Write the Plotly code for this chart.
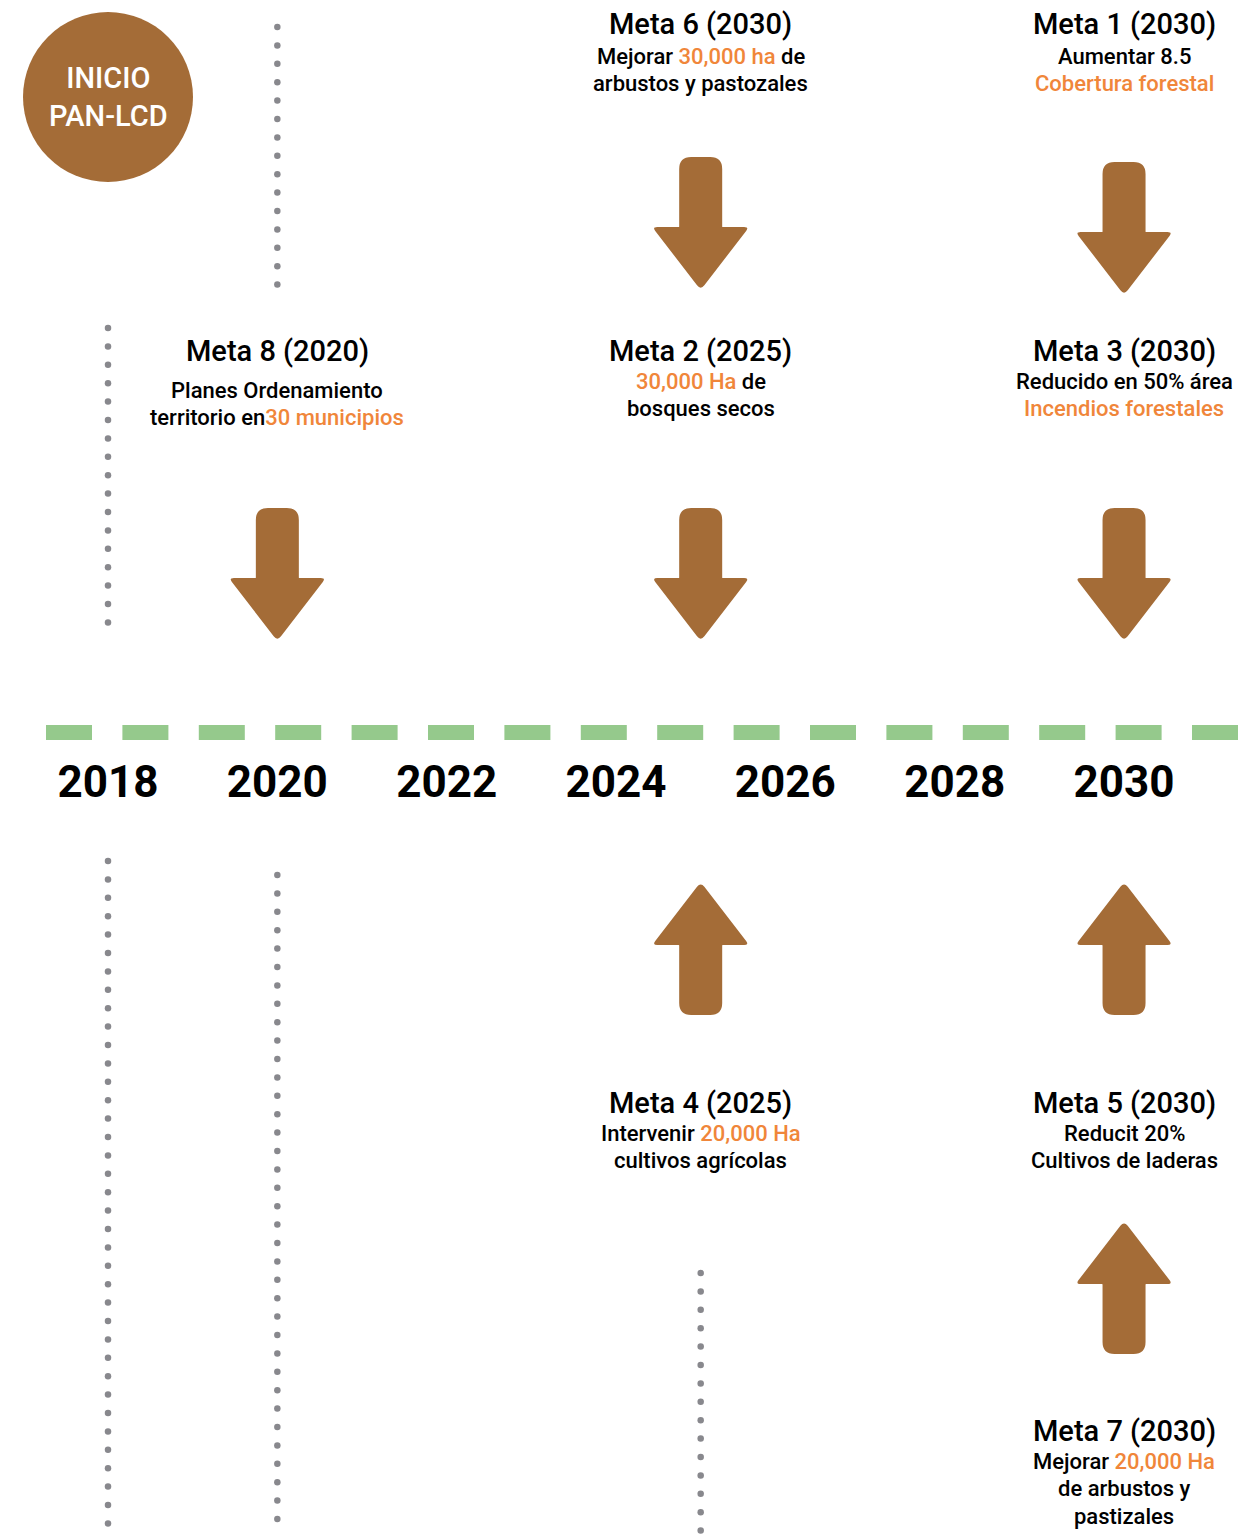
import re
import numpy as np
import plotly.graph_objects as go

# ---------------- data ----------------
year_ticks = [2018, 2020, 2022, 2024, 2026, 2028, 2030]
start_label = ["INICIO", "PAN-LCD"]
start_year = 2018

meta_ids = [6, 1, 8, 2, 3, 4, 5, 7]
meta_years = [2030, 2030, 2020, 2025, 2030, 2025, 2030, 2030]
meta_cols = [2025, 2030, 2020, 2025, 2030, 2025, 2030, 2030]
meta_texts = [
    ["Mejorar [30,000 ha] de", "arbustos y pastozales"],
    ["Aumentar 8.5", "[Cobertura forestal]"],
    ["Planes Ordenamiento", "territorio en[30 municipios]"],
    ["[30,000 Ha] de", "bosques secos"],
    ["Reducido en 50% área", "[Incendios forestales]"],
    ["Intervenir [20,000 Ha]", "cultivos agrícolas"],
    ["Reducit 20%", "Cultivos de laderas"],
    ["Mejorar [20,000 Ha]", "de arbustos y", "pastizales"],
]

arrow_cols = [2025, 2030, 2020, 2025, 2030, 2025, 2030, 2030]
arrow_dirs = ["down", "down", "down", "down", "down", "up", "up", "up"]

dotted_cols = [2020, 2018, 2018, 2020, 2025]

# ---------------- layout / style ----------------
W, H = 1251, 1538
PPY = 84.67                     # pixels per year on the x axis
X0 = 2018 - 108 / PPY
X1 = X0 + W / PPY

BROWN = "#A46C37"
ORANGE = "#F0863A"
GREEN = "#95C98C"
GRAY = "#88888D"
FONT = "Roboto"

meta_title_y = [24, 24, 351, 351, 351, 1103, 1103, 1431]
meta_body_y0 = [56, 56, 390, 381, 381, 1133, 1133, 1461]
LINE_STEP = 27.7

arrow_tops = [157, 162, 508, 508, 508, 882, 882, 1221]
dotted_spans = [(27, 294), (328, 638), (861, 1535), (875, 1535), (1273, 1535)]


def px(dx):
    return dx / PPY


fig = go.Figure()

# dotted gray lines
for col, (y0, y1) in zip(dotted_cols, dotted_spans):
    ys = np.arange(y0, y1 + 0.5, 18.4)
    fig.add_trace(go.Scatter(x=[col] * len(ys), y=ys, mode="markers",
                             marker=dict(size=6.5, color=GRAY),
                             hoverinfo="skip", showlegend=False))

# dashed green timeline
fig.add_trace(go.Scatter(x=[X0 + px(46), X0 + px(1238)], y=[732.5, 732.5], mode="lines",
                         line=dict(color=GREEN, width=15, dash="46px,30.4px"),
                         hoverinfo="skip", showlegend=False))

# year labels
fig.add_trace(go.Scatter(x=year_ticks, y=[786] * len(year_ticks), mode="text",
                         text=[str(y) for y in year_ticks],
                         textfont=dict(family=FONT, size=44, color="#000000", weight="bold"),
                         hoverinfo="skip", showlegend=False))

# start circle
R = 85
fig.add_shape(type="circle", xref="x", yref="y",
              x0=start_year - px(R), x1=start_year + px(R), y0=97 - R, y1=97 + R,
              fillcolor=BROWN, line=dict(width=0), layer="below")
fig.add_annotation(x=start_year, y=97, text="<br>".join(start_label), showarrow=False,
                   xanchor="center", yanchor="middle",
                   font=dict(family=FONT, size=29, color="white", weight=500))


def rounded_path(col, pts, radii):
    n = len(pts)
    segs = []
    for i in range(n):
        P = np.array(pts[i], float)
        A = np.array(pts[i - 1], float)
        B = np.array(pts[(i + 1) % n], float)
        r = radii[i]
        dA = (A - P) / np.linalg.norm(A - P)
        dB = (B - P) / np.linalg.norm(B - P)
        segs.append((P + dA * r, P, P + dB * r))

    def c(p):
        return f"{col + px(p[0]):.5f},{p[1]:.2f}"
    d = f"M{c(segs[0][0])} Q{c(segs[0][1])} {c(segs[0][2])}"
    for p1, P, p2 in segs[1:]:
        d += f" L{c(p1)} Q{c(P)} {c(p2)}"
    return d + " Z"


# arrows
L_ARROW = 133
SHAFT = 70
for col, top, dr in zip(arrow_cols, arrow_tops, arrow_dirs):
    if dr == "down":
        yy = lambda v: top + v
    else:
        yy = lambda v: top + L_ARROW - v
    pts = [(-21.5, yy(0)), (21.5, yy(0)), (21.5, yy(SHAFT)), (48.5, yy(SHAFT)),
           (0, yy(L_ARROW)), (-48.5, yy(SHAFT)), (-21.5, yy(SHAFT))]
    radii = [12, 12, 0.5, 5, 6, 5, 0.5]
    fig.add_shape(type="path", xref="x", yref="y", path=rounded_path(col, pts, radii),
                  fillcolor=BROWN, line=dict(width=0))


def colorize(s):
    return re.sub(r"\[([^\]]+)\]", rf"<span style='color:{ORANGE}'>\1</span>", s)


# meta texts
for mid, yr, col, lines, ty, by in zip(meta_ids, meta_years, meta_cols, meta_texts,
                                      meta_title_y, meta_body_y0):
    fig.add_annotation(x=col, y=ty, text=f"Meta {mid} ({yr})", showarrow=False,
                       xanchor="center", yanchor="middle",
                       font=dict(family=FONT, size=29, color="#000000", weight=500))
    for j, ln in enumerate(lines):
        fig.add_annotation(x=col, y=by + LINE_STEP * j, text=colorize(ln), showarrow=False,
                           xanchor="center", yanchor="middle",
                           font=dict(family=FONT, size=22, color="#000000", weight=500))

fig.update_layout(
    width=W, height=H,
    margin=dict(l=0, r=0, t=0, b=0),
    paper_bgcolor="white", plot_bgcolor="white",
    xaxis=dict(range=[X0, X1], visible=False, fixedrange=True),
    yaxis=dict(range=[H, 0], visible=False, fixedrange=True),
    showlegend=False,
)

fig.write_html("out.html", config={"displayModeBar": False, "staticPlot": True},
               post_script="document.body.style.margin='0';")
